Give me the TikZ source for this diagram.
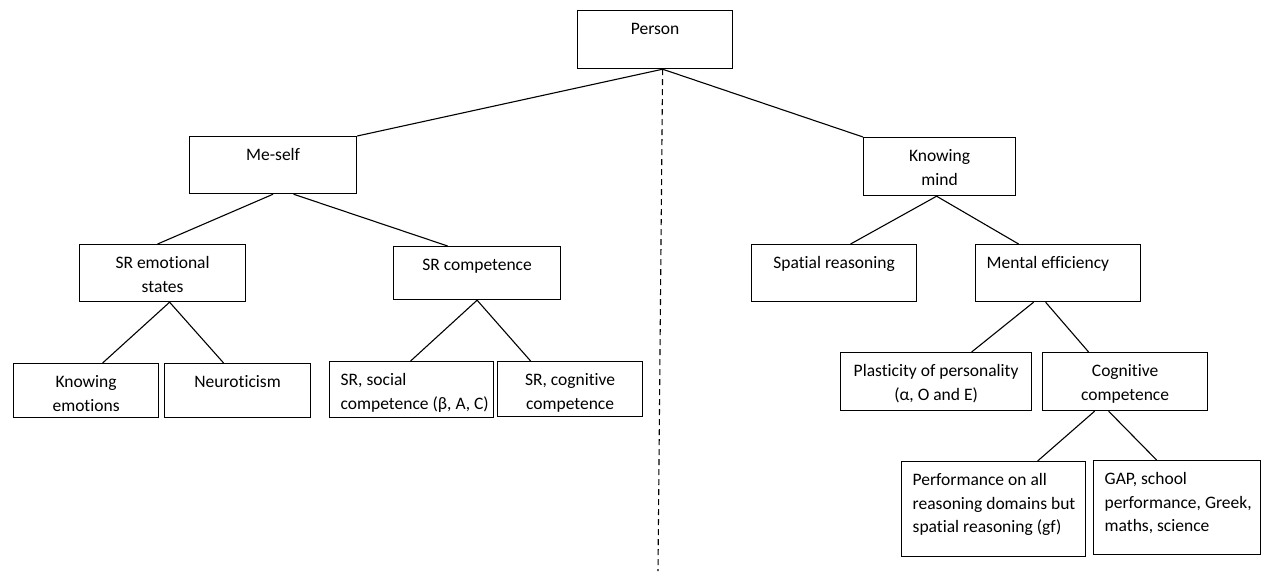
\documentclass[tikz,border=0pt]{standalone}
\usepackage{fontspec}
\setmainfont{Carlito}[Ligatures={NoCommon}]
\newcommand\st{\rule{0pt}{14pt}}
\tikzset{
  bx/.style={draw, line width=1.2pt, inner sep=0pt, anchor=north west},
  tx/.style={inner sep=0pt, align=center, anchor=north, font=\fontsize{17.5}{23.5}\selectfont},
  txl/.style={inner sep=0pt, align=left, anchor=north west, font=\fontsize{17.5}{23.5}\selectfont},
  ln/.style={line width=1.1pt},
  dln/.style={line width=1.1pt, dash pattern=on 6pt off 4pt}
}
% name, left, top, right, bottom, text
\newcommand\boxc[6]{%
  \node[bx, minimum width={(#4-#2)*1pt}, minimum height={(#5-#3)*1pt}] (#1) at (#2,#3) {};
  \node[tx] (#1t) at ([yshift=-10.5pt]#1.north) {\st#6};
}
\newcommand\boxl[6]{%
  \node[bx, minimum width={(#4-#2)*1pt}, minimum height={(#5-#3)*1pt}] (#1) at (#2,#3) {};
  \node[txl] (#1t) at ([xshift=11.5pt,yshift=-10.5pt]#1.north west) {\st#6};
}
\begin{document}
\begin{tikzpicture}[x=1pt,y=-1pt]
\useasboundingbox (0,0) rectangle (1269,571);
\boxc{person}{577}{10}{732}{68}{Person}
\boxc{meself}{189}{136}{356}{193}{Me-self}
\boxc{knowmind}{863}{137}{1015}{195}{Knowing\\mind}
\boxc{sremo}{79}{244}{245}{301}{SR emotional\\states}
\boxc{srcomp}{393}{246}{560}{299}{SR competence}
\boxc{spatial}{751}{244}{916}{301}{Spatial reasoning}
\boxl{mental}{975}{244}{1140}{301}{Mental efficiency}
\boxc{knowemo}{13}{363}{158}{417}{Knowing\\emotions}
\boxc{neuro}{164}{363}{310}{417}{Neuroticism}
\boxl{srsocial}{329}{361}{493}{417}{SR, social\\competence (β, A, C)}
\boxc{srcog}{497}{361}{642}{416}{SR, cognitive\\competence}
\boxc{plast}{840}{352}{1031}{410}{Plasticity of personality\\(α, O and E)}
\boxc{cogcomp}{1042}{352}{1207}{410}{Cognitive\\competence}
\boxl{perf}{901}{461}{1085}{556}{Performance on all\\reasoning domains but\\spatial reasoning (gf)}
\boxl{gap}{1093}{460}{1260}{554}{GAP, school\\performance, Greek,\\maths, science}
\coordinate (dashend) at (658,571);
% connectors
\draw[ln] ([xshift=7.5pt]person.south) -- (meself.north east);
\draw[ln] ([xshift=7.5pt]person.south) -- (knowmind.north west);
\draw[dln] ([xshift=7.5pt]person.south) -- (dashend);
\draw[ln] (meself.south) -- ([xshift=-5pt]sremo.north);
\draw[ln] ([xshift=20.5pt]meself.south) -- ([xshift=-29.5pt]srcomp.north);
\draw[ln] ([xshift=7pt]sremo.south) -- ([xshift=16.5pt]knowemo.north);
\draw[ln] ([xshift=7pt]sremo.south) -- ([xshift=-14pt]neuro.north);
\draw[ln] (srcomp.south) -- ([xshift=-1pt]srsocial.north);
\draw[ln] (srcomp.south) -- ([xshift=-39.5pt]srcog.north);
\draw[ln] ([xshift=-3pt]knowmind.south) -- ([xshift=16.5pt]spatial.north);
\draw[ln] ([xshift=-3pt]knowmind.south) -- ([xshift=-39.5pt]mental.north);
\draw[ln] ([xshift=-24.5pt]mental.south) -- ([xshift=35.5pt]plast.north);
\draw[ln] ([xshift=-12.5pt]mental.south) -- ([xshift=-36.5pt]cogcomp.north);
\draw[ln] ([xshift=-30.5pt]cogcomp.south) -- ([xshift=44pt]perf.north);
\draw[ln] ([xshift=-16.5pt]cogcomp.south) -- ([xshift=-20.5pt]gap.north);
\end{tikzpicture}
\end{document}
